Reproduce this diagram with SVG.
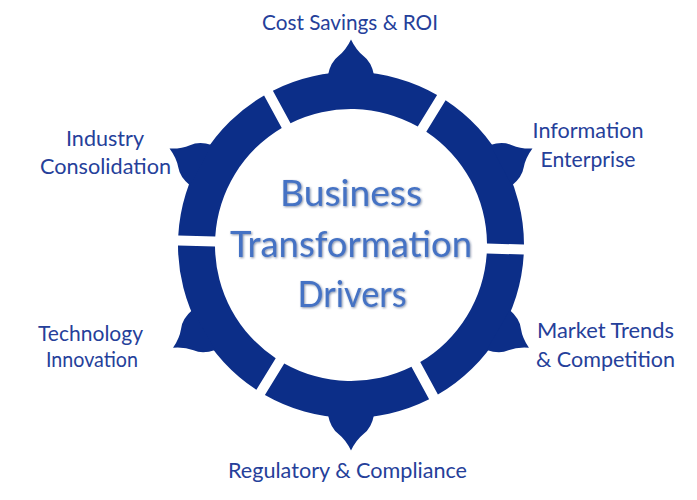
<svg xmlns="http://www.w3.org/2000/svg" xmlns:xlink="http://www.w3.org/1999/xlink" width="697" height="500" viewBox="0 0 697 500">
<defs>
<style>
.ring{fill:#0C2E88}
.lbl{font-family:"Lato","Noto Sans",sans-serif;font-size:21.5px;fill:#25409A;text-anchor:middle}
.ctr{font-family:"Lato","Noto Sans",sans-serif;font-size:36px;fill:#4472C4;text-anchor:middle}
</style>
<path id="seg" d="M -82.134 -152.26 A 173 173 0 0 1 82.134 -152.26 L 63.624 -120.201 A 136 136 0 0 0 -63.624 -120.201 Z"/>
<path id="bump" d="M -23 -170 Q -20.5 -183 -12.5 -189 Q -5 -195 0 -205.5 Q 5 -195 12.5 -189 Q 20.5 -183 23 -170 Z"/>
<filter id="sh" x="-10%" y="-20%" width="120%" height="140%">
<feDropShadow dx="1" dy="1" stdDeviation="0.8" flood-color="#1F3864" flood-opacity="0.55"/>
</filter>
</defs>
<rect width="697" height="500" fill="#FFFFFF"/>
<g id="cost-savings">
<use class="ring" href="#seg" transform="translate(351,245) rotate(1.5)"/>
<use class="ring" href="#bump" transform="translate(351,245) rotate(0)"/>
<text class="lbl" x="350" y="30" textLength="176" lengthAdjust="spacingAndGlyphs">Cost Savings &amp; ROI</text>
</g>
<g id="information-enterprise">
<use class="ring" href="#seg" transform="translate(351,245) rotate(61.5)"/>
<use class="ring" href="#bump" transform="translate(351,245) rotate(62)"/>
<text class="lbl" x="588" y="138" textLength="111" lengthAdjust="spacingAndGlyphs">Information</text>
<text class="lbl" x="588" y="167" textLength="95" lengthAdjust="spacingAndGlyphs">Enterprise</text>
</g>
<g id="market-trends">
<use class="ring" href="#seg" transform="translate(351,245) rotate(121.5)"/>
<use class="ring" href="#bump" transform="translate(351,245) rotate(120)"/>
<text class="lbl" x="605.5" y="338" textLength="137" lengthAdjust="spacingAndGlyphs">Market Trends</text>
<text class="lbl" x="605.5" y="367" textLength="139" lengthAdjust="spacingAndGlyphs">&amp; Competition</text>
</g>
<g id="regulatory-compliance">
<use class="ring" href="#seg" transform="translate(351,245) rotate(181.5)"/>
<use class="ring" href="#bump" transform="translate(351,245) rotate(180)"/>
<text class="lbl" x="347.5" y="478" textLength="239" lengthAdjust="spacingAndGlyphs">Regulatory &amp; Compliance</text>
</g>
<g id="technology-innovation">
<use class="ring" href="#seg" transform="translate(351,245) rotate(241.5)"/>
<use class="ring" href="#bump" transform="translate(351,245) rotate(240)"/>
<text class="lbl" x="90.5" y="341" textLength="105" lengthAdjust="spacingAndGlyphs">Technology</text>
<text class="lbl" x="92" y="367" textLength="92" lengthAdjust="spacingAndGlyphs">Innovation</text>
</g>
<g id="industry-consolidation">
<use class="ring" href="#seg" transform="translate(351,245) rotate(301.5)"/>
<use class="ring" href="#bump" transform="translate(351,245) rotate(298)"/>
<text class="lbl" x="105" y="146" textLength="78" lengthAdjust="spacingAndGlyphs">Industry</text>
<text class="lbl" x="105.5" y="174" textLength="131" lengthAdjust="spacingAndGlyphs">Consolidation</text>
</g>
<g id="connectors"/>
<g id="center" filter="url(#sh)">
<text class="ctr" x="351" y="206" textLength="142" lengthAdjust="spacingAndGlyphs">Business</text>
<text class="ctr" x="351" y="257" textLength="242" lengthAdjust="spacingAndGlyphs">Transformation</text>
<text class="ctr" x="352" y="307" textLength="109" lengthAdjust="spacingAndGlyphs">Drivers</text>
</g>
</svg>
